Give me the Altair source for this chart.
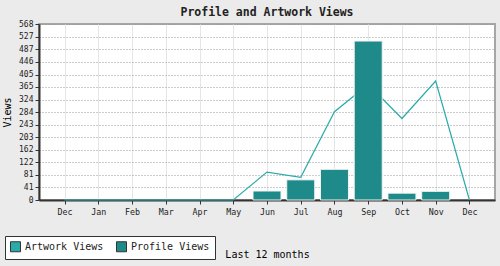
import altair as alt
import pandas as pd

months = ["Dec", "Jan", "Feb", "Mar", "Apr", "May", "Jun", "Jul", "Aug", "Sep", "Oct", "Nov", "Dec"]
artwork_views = [0, 0, 0, 0, 0, 0, 90, 73, 285, 373, 263, 384, 0]
profile_views = [0, 0, 0, 0, 0, 0, 29, 65, 99, 513, 22, 28, 0]
y_ticks = [0, 41, 81, 122, 162, 203, 243, 284, 324, 365, 405, 446, 487, 527, 568]

series = ["Artwork Views", "Profile Views"]
colors = ["#2aabab", "#1e8a8a"]

idx = list(range(len(months)))
art = pd.DataFrame({"i": idx, "month": months, "value": artwork_views, "series": series[0]})
prof = pd.DataFrame({"i": idx, "month": months, "value": profile_views, "series": series[1]})

label_expr = "[" + ",".join(f"'{m}'" for m in months) + "][datum.value]"
FONT = "DejaVu Sans Mono"

x_enc = alt.X(
    "i:Q",
    scale=alt.Scale(domain=[-0.61, 12.61], nice=False, zero=False),
    axis=alt.Axis(
        values=idx, labelExpr=label_expr, title="Last 12 months",
        titlePadding=34, titleFont=FONT, titleFontSize=10, titleFontWeight="normal",
        labelFont=FONT, labelFontSize=8.3, labelColor="#222",
        grid=True, gridColor="#e6e6e6", gridWidth=1,
        domainColor="#333", domainWidth=2, tickColor="#333", tickSize=4,
        labelPadding=3,
    ),
)
y_enc = alt.Y(
    "value:Q",
    scale=alt.Scale(domain=[0, 568], nice=False),
    axis=alt.Axis(
        values=y_ticks, title="Views", titleFont=FONT, titleFontSize=10,
        titleFontWeight="normal", titlePadding=6,
        labelFont=FONT, labelFontSize=8, labelColor="#222",
        grid=True, gridColor="#999999", gridDash=[1, 2], gridWidth=1,
        domainColor="#333", domainWidth=2, tickColor="#333", tickSize=4,
        labelPadding=2,
    ),
)

line = alt.Chart(art).mark_line(strokeWidth=1.2, color=colors[0]).encode(
    x=x_enc, y=y_enc
)

bars = alt.Chart(prof).transform_filter("datum.value > 0").mark_bar(
    size=28, stroke="#f2f2f2", strokeWidth=1
).encode(
    x=x_enc,
    y=y_enc,
    color=alt.Color(
        "series:N",
        scale=alt.Scale(domain=series, range=colors),
        legend=alt.Legend(
            title=None, orient="none", legendX=-34, legendY=212,
            direction="horizontal", fillColor="white", strokeColor="#333",
            padding=5, symbolType="square", symbolSize=100,
            symbolStrokeColor="#333", symbolStrokeWidth=1,
            labelFont=FONT, labelFontSize=10, labelColor="#222",
            columnPadding=10, labelOffset=4,
        ),
    ),
)

chart = alt.layer(line, bars).properties(
    width=456, height=176,
    title=alt.TitleParams("Profile and Artwork Views", font=FONT, fontSize=11.5,
                          fontWeight="bold", color="#222", offset=2),
    autosize=alt.AutoSizeParams(type="none"),
    padding={"left": 39, "top": 24, "right": 5, "bottom": 66},
    background="#ebebeb",
).configure_view(
    fill="white", stroke="#a6a6a6", strokeWidth=2
)

chart.save("out.html", embed_options={"renderer": "svg", "actions": False})
